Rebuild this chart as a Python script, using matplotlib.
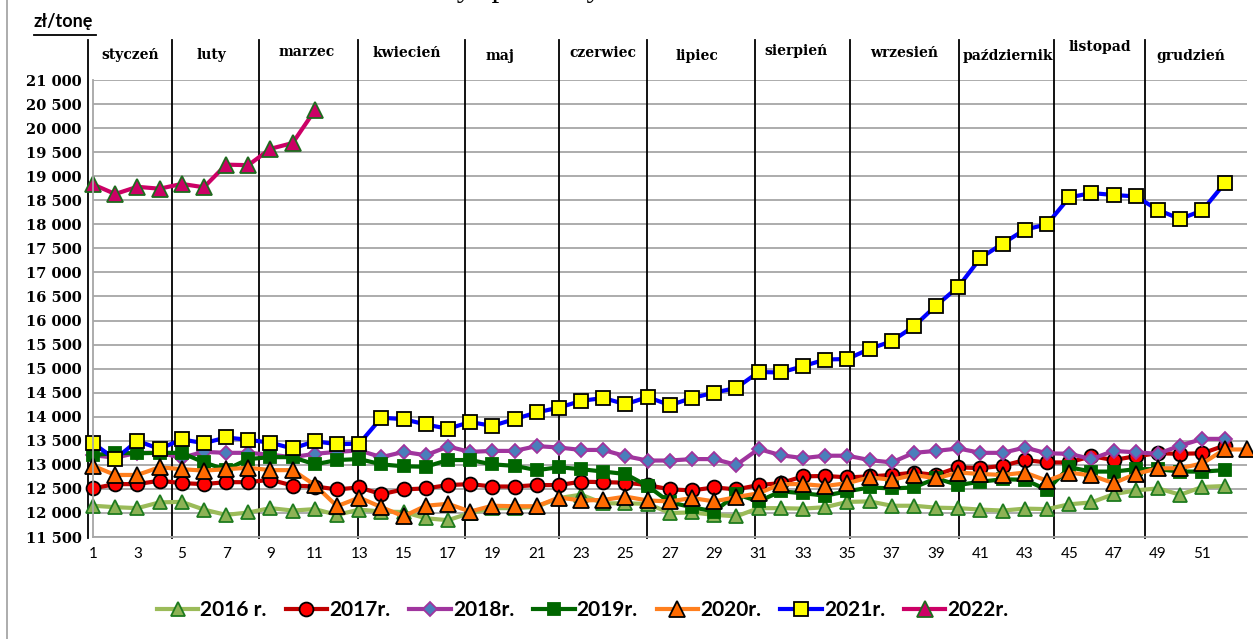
import numpy as np
import matplotlib
matplotlib.use('Agg')
import matplotlib.pyplot as plt
from matplotlib.lines import Line2D
from matplotlib.ticker import FuncFormatter, MultipleLocator

# tydzień roku
weeks_2016 = list(range(1, 53))

price_2016 = [
    12150, 12120, 12100, 12220, 12230, 12070, 11960, 12010, 12100, 12050,
    12080, 11960, 12070, 12030, 12020, 11890, 11850, 12000, 12100, 12100,
    12130, 12310, 12380, 12200, 12200, 12190, 12000, 12010, 11960, 11930,
    12100, 12100, 12090, 12120, 12230, 12240, 12150, 12150, 12110, 12100,
    12070, 12050, 12090, 12080, 12180, 12220, 12390, 12470, 12510, 12380,
    12540, 12560
]

price_2017 = [
    12510, 12600, 12600, 12670, 12620, 12600, 12640, 12640, 12690, 12570,
    12550, 12490, 12530, 12390, 12490, 12510, 12580, 12600, 12550, 12550,
    12580, 12580, 12650, 12640, 12630, 12580, 12490, 12470, 12530, 12490,
    12580, 12620, 12760, 12770, 12740, 12760, 12790, 12840, 12790, 12950,
    12930, 12980, 13100, 13050, 13050, 13180, 13100, 13180, 13240, 13230,
    13240, 13400
]

price_2018 = [
    13200, 13150, 13250, 13250, 13150, 13270, 13250, 13250, 13210, 13160,
    13230, 13270, 13300, 13160, 13270, 13200, 13380, 13270, 13290, 13290,
    13390, 13360, 13310, 13310, 13180, 13090, 13090, 13120, 13120, 13000,
    13330, 13200, 13140, 13190, 13190, 13100, 13050, 13250, 13290, 13340,
    13250, 13250, 13360, 13240, 13230, 13120, 13290, 13260, 13230, 13400,
    13540, 13540
]

price_2019 = [
    13200, 13250, 13240, 13250, 13250, 13050, 12900, 13120, 13160, 13160,
    13010, 13100, 13120, 13010, 12970, 12960, 13100, 13100, 13010, 12980,
    12890, 12950, 12910, 12860, 12810, 12560, 12220, 12120, 12030, 12390,
    12240, 12450, 12410, 12360, 12450, 12530, 12510, 12530, 12720, 12580,
    12650, 12700, 12690, 12480, 12950, 12860, 12860, 12910, 12910, 12860,
    12860, 12890
]

weeks_2020 = list(range(1, 54))

price_2020 = [
    12980, 12790, 12790, 12950, 12910, 12880, 12910, 12940, 12890, 12890,
    12580, 12140, 12320, 12120, 11930, 12150, 12190, 12030, 12150, 12140,
    12140, 12320, 12260, 12270, 12340, 12260, 12240, 12310, 12240, 12330,
    12410, 12600, 12600, 12560, 12620, 12740, 12690, 12790, 12720, 12840,
    12810, 12790, 12840, 12670, 12840, 12780, 12620, 12810, 12930, 12930,
    13030, 13320, 13320
]

weeks_2021 = list(range(1, 53))

price_2021 = [
    13450, 13120, 13500, 13330, 13530, 13450, 13570, 13520, 13460, 13340,
    13490, 13430, 13440, 13980, 13950, 13840, 13750, 13890, 13810, 13950,
    14090, 14190, 14330, 14390, 14260, 14410, 14240, 14390, 14500, 14600,
    14930, 14920, 15050, 15190, 15200, 15410, 15570, 15880, 16310, 16700,
    17300, 17600, 17890, 18000, 18560, 18650, 18610, 18580, 18300, 18110,
    18290, 18850
]

weeks_2022 = list(range(1, 12))

price_2022 = [
    18830, 18630, 18780, 18740, 18840, 18770, 19240, 19230, 19570, 19690,
    20370
]

series_labels = ['2016 r.', '2017r.', '2018r.', '2019r.', '2020r.', '2021r.', '2022r.']

month_names = [
    'styczeń', 'luty', 'marzec', 'kwiecień', 'maj', 'czerwiec', 'lipiec',
    'sierpień', 'wrzesień', 'październik', 'listopad', 'grudzień'
]

# pozycje (w tygodniach) linii oddzielających miesiące i podpisów miesięcy
month_borders = [0.77, 4.56, 8.48, 12.94, 17.76, 21.99, 25.95, 30.82, 35.1, 40.05, 44.33, 48.43]
month_centers = [2.67, 6.32, 10.64, 15.14, 19.33, 23.97, 28.2, 32.7, 37.58, 42.23, 46.37, 50.5]
month_label_y = [1.055, 1.055, 1.062, 1.058, 1.052, 1.06, 1.052, 1.064, 1.058, 1.052, 1.072, 1.052]


def thousands(v, pos):
    return '{:,.0f}'.format(v).replace(',', ' ')


fig = plt.figure(figsize=(12.53, 6.39), dpi=100)

ax = fig.add_axes([0.0742, 0.1596, 0.9208, 0.7152])

styles = [
    dict(color='#9BBB59', marker='^', markersize=10, markerfacecolor='#8DB255', markeredgecolor='#1E7B1E'),
    dict(color='#C00000', marker='o', markersize=10, markerfacecolor='#FF0000', markeredgecolor='#000000'),
    dict(color='#A0359E', marker='D', markersize=7, markerfacecolor='#4A7EBB', markeredgecolor='#A0359E'),
    dict(color='#006600', marker='s', markersize=9, markerfacecolor='#006600', markeredgecolor='#006600'),
    dict(color='#FF7F1E', marker='^', markersize=11, markerfacecolor='#FF6A00', markeredgecolor='#000000'),
    dict(color='#0000FF', marker='s', markersize=10, markerfacecolor='#FFFF00', markeredgecolor='#000000'),
    dict(color='#CC0066', marker='^', markersize=11, markerfacecolor='#CC0066', markeredgecolor='#1E6B1E'),
]

data = [
    (weeks_2016, price_2016),
    (weeks_2016, price_2017),
    (weeks_2016, price_2018),
    (weeks_2016, price_2019),
    (weeks_2020, price_2020),
    (weeks_2021, price_2021),
    (weeks_2022, price_2022),
]

handles = []
for (x, y), st, lab in zip(data, styles, series_labels):
    l, = ax.plot(x, y, linewidth=3, markeredgewidth=1.3, label=lab, clip_on=False, **st)
    handles.append(l)

ax.set_xlim(1, 53)
ax.set_ylim(11500, 21000)
ax.yaxis.set_major_locator(MultipleLocator(500))
ax.yaxis.set_major_formatter(FuncFormatter(thousands))
ax.set_xticks(range(1, 52, 2))
ax.grid(axis='y', color='#A6A6A6', linewidth=1.3)
ax.set_axisbelow(True)
for s in ['top', 'right']:
    ax.spines[s].set_visible(False)
ax.spines['left'].set_color('#A6A6A6')
ax.spines['bottom'].set_color('#A6A6A6')
ax.spines['left'].set_linewidth(1.3)
ax.spines['bottom'].set_linewidth(1.3)
ax.tick_params(length=0)
ax.tick_params(axis='x', pad=7)
ax.tick_params(axis='y', pad=8)

for t in ax.get_yticklabels():
    t.set_family('DejaVu Serif')
    t.set_fontweight('bold')
    t.set_fontsize(10.5)
for t in ax.get_xticklabels():
    t.set_family('Lato')
    t.set_fontsize(11)

# linie miesięcy i podpisy
tr = ax.get_xaxis_transform()
for b in month_borders:
    ax.plot([b, b], [-0.003, 1.088], color='black', linewidth=1.3, transform=tr, clip_on=False, zorder=1.5)
for name, c, yy in zip(month_names, month_centers, month_label_y):
    ax.text(c, yy, name, transform=tr, ha='center', va='center',
            family='DejaVu Serif', fontweight='bold', fontsize=10)

# tytuł (obcięty u góry, jak w oryginale)
fig.text(0.45, 1.0055, 'Średnie ceny sprzedaży masła w blokach', ha='center', va='baseline',
         family='Liberation Serif', fontsize=22)

fig.text(0.027, 0.967, 'zł/tonę', ha='left', va='center', family='Lato', fontweight='bold', fontsize=13)
fig.add_artist(Line2D([0.027, 0.077], [0.946, 0.946], color='black', linewidth=1.3))

# ramka wykresu
fig.add_artist(Line2D([0.0056, 0.0056], [0, 1], color='#A6A6A6', linewidth=1.3))

fig.legend(handles=handles, loc='center', bbox_to_anchor=(0.465, 0.045), ncol=7, frameon=False,
           prop={'family': 'Lato', 'weight': 'bold', 'size': 15}, handlelength=2.0,
           handletextpad=0.1, columnspacing=0.9, numpoints=1)

plt.savefig('out.png', dpi=100)
